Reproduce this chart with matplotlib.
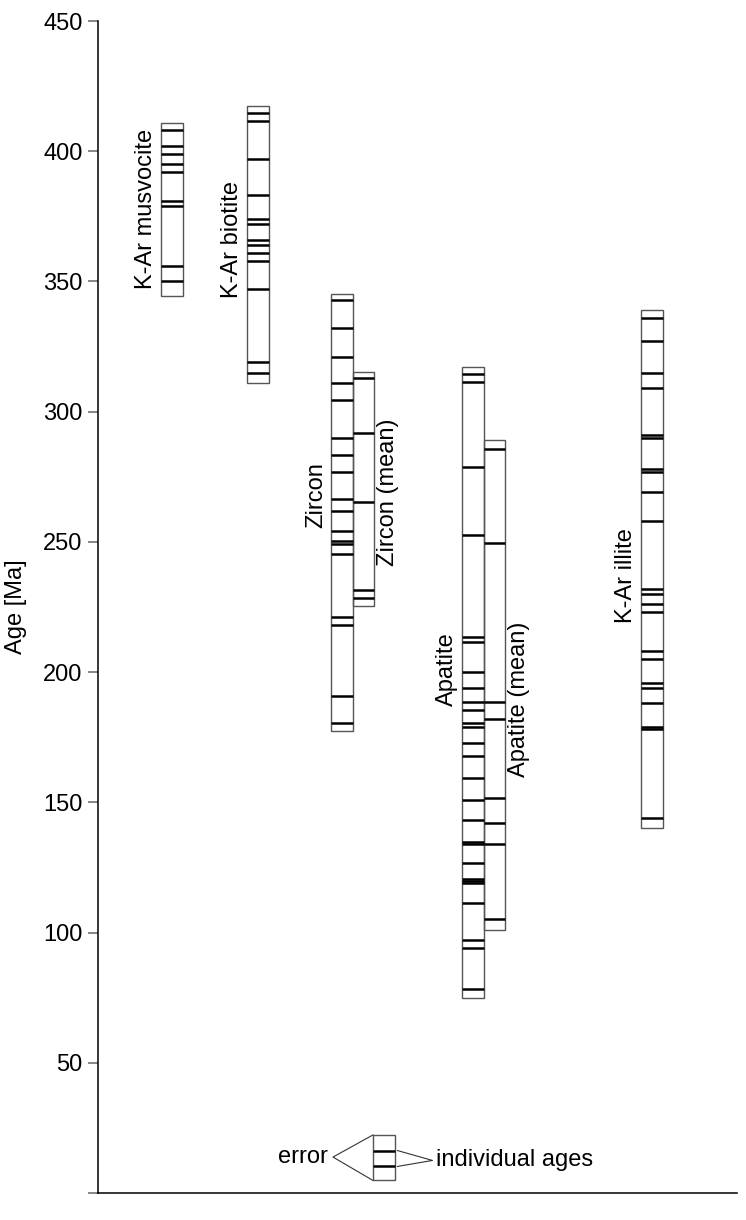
import matplotlib
matplotlib.use('Agg')
import matplotlib.pyplot as plt
from matplotlib.patches import Rectangle

plt.rcParams['font.family'] = ['Liberation Sans', 'DejaVu Sans']
plt.rcParams['font.size'] = 17

# --- data (Ma) ---
names = ['K-Ar musvocite', 'K-Ar biotite', 'Zircon', 'Zircon (mean)',
         'Apatite', 'Apatite (mean)', 'K-Ar illite']

box_low = [344.5, 311.0, 177.5, 225.4, 74.8, 101.0, 140.0]
box_high = [411.0, 417.5, 345.2, 315.4, 317.1, 289.2, 339.1]

musvocite = [408, 402, 399, 395, 392, 381, 379, 356, 350]
biotite = [414.5, 411.5, 397, 383, 374, 372, 366, 364, 361, 358, 347, 319, 315]
zircon = [343, 332, 321, 311, 304.5, 290, 283.5, 277, 266.5, 262, 254, 250.5,
          249, 245.5, 221, 218, 191, 180.5]
zircon_mean = [313, 292, 265.5, 231.5, 228.5]
apatite = [314.5, 311.4, 278.7, 252.7, 213.4, 211.7, 200.2, 193.8, 188.7, 185.5,
           180.6, 179.1, 172.9, 167.6, 159.5, 150.9, 143.2, 134.9, 134.0, 126.6,
           120.6, 119.8, 119.2, 111.3, 97.2, 94.0, 78.2]
apatite_mean = [285.6, 249.7, 188.7, 181.9, 151.8, 142.2, 134.0, 105.2]
illite = [336, 327, 315, 309, 291, 290, 278, 277, 269, 258, 232, 230, 226, 223,
          208, 205, 196, 194, 188, 179, 178, 144]

all_ages = [musvocite, biotite, zircon, zircon_mean, apatite, apatite_mean, illite]

# legend example box
legend_low, legend_high = 4.8, 22.3
legend_ages = [16.3, 10.2]

# --- layout ---
col_x = [63, 149, 233, 254.5, 364, 385.5, 543]   # left edge of each box (x in px-like units)
col_w = 21.5
label_side = ['left', 'left', 'left', 'right', 'left', 'right', 'left']
label_y = [378, 366, 268, 269, 201, 189.5, 237]
legend_x = 275

edge_col = '#555555'
fig = plt.figure(figsize=(7.46, 12.2), dpi=100)
ax = fig.add_axes([98 / 746, 27 / 1220, 639 / 746, 1172 / 1220])
ax.set_xlim(0, 639)
ax.set_ylim(0, 450)


def draw_column(ax, x, low, high, ages):
    ax.add_patch(Rectangle((x, low), col_w, high - low, fill=False,
                           edgecolor=edge_col, linewidth=1.0, zorder=2))
    ax.hlines(ages, x, x + col_w, colors='black', linewidth=1.8, zorder=3)


for i in range(len(names)):
    draw_column(ax, col_x[i], box_low[i], box_high[i], all_ages[i])
    if label_side[i] == 'left':
        ax.text(col_x[i] - 4, label_y[i], names[i], rotation=90,
                ha='right', va='center')
    else:
        ax.text(col_x[i] + col_w + 3, label_y[i], names[i], rotation=90,
                ha='left', va='center')

# legend sketch
draw_column(ax, legend_x, legend_low, legend_high, legend_ages)
ax.plot([legend_x, legend_x - 40, legend_x], [legend_high, 13.8, legend_low],
        color='#333333', linewidth=0.8)
ax.text(legend_x - 45, 13.8, 'error', ha='right', va='center')
tip_x = legend_x + col_w + 38
ax.plot([legend_x + col_w + 3, tip_x, legend_x + col_w + 3],
        [legend_ages[0], 12.5, legend_ages[1]], color='#333333', linewidth=0.8)
ax.text(tip_x + 4, 12.7, 'individual ages', ha='left', va='center')

# axes styling
ax.spines['top'].set_visible(False)
ax.spines['right'].set_visible(False)
ax.spines['left'].set_linewidth(1.1)
ax.spines['bottom'].set_linewidth(1.1)
ax.set_xticks([])
yt = list(range(0, 451, 50))
ax.set_yticks(yt)
ax.set_yticklabels([''] + [str(v) for v in yt[1:]])
ax.tick_params(axis='y', direction='out', length=7, width=1.1, color='#666666',
               labelsize=17, pad=4)
ax.set_ylabel('Age [Ma]', labelpad=12)

fig.savefig('out.png', dpi=100)
